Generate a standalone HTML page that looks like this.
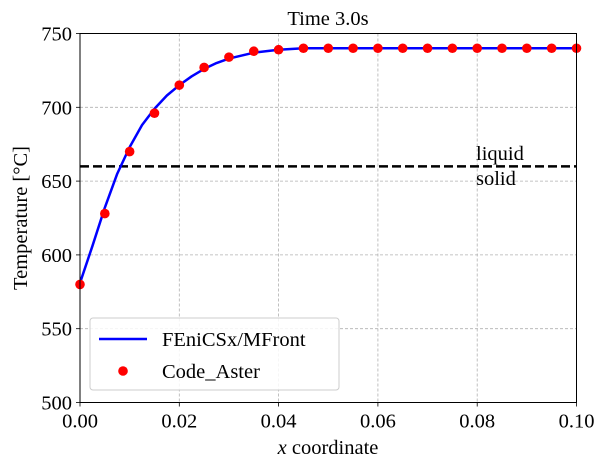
<!DOCTYPE html>
<html><head><meta charset="utf-8"><style>
body{margin:0;background:#fff;}
text{font-family:"Liberation Serif","DejaVu Serif",serif;fill:#000;}
</style></head><body>
<svg id="chart" width="605" height="467" xmlns="http://www.w3.org/2000/svg">
<g id="grid"></g><g id="marks"></g><g id="axes"></g>
</svg>
<script>
const xTicks=[0,0.02,0.04,0.06,0.08,0.10];
const xTickLabels=["0.00","0.02","0.04","0.06","0.08","0.10"];
const yTicks=[500,550,600,650,700,750];
const lineX=[0,0.0025,0.005,0.0075,0.01,0.0125,0.015,0.0175,0.02,0.0225,0.025,0.0275,0.03,0.035,0.04,0.045,0.05,0.06,0.08,0.1];
const lineY=[581,606,632,655,673,688,699,708,715,721,726,730,733,737,739,740,740,740,740,740];
const asterX=[0,0.005,0.01,0.015,0.02,0.025,0.03,0.035,0.04,0.045,0.05,0.055,0.06,0.065,0.07,0.075,0.08,0.085,0.09,0.095,0.1];
const asterY=[580,628,670,696,715,727,734,738,739,740,740,740,740,740,740,740,740,740,740,740,740];
const threshold=660;
const NS="http://www.w3.org/2000/svg";
const L=80,R=576.5,T=33.5,B=402.5;
const sx=v=>L+(v-0)/(0.1)*(R-L);
const sy=v=>B-(v-500)/250*(B-T);
function mk(tag,parent,attrs,txt){const e=document.createElementNS(NS,tag);for(const k in attrs)e.setAttribute(k,attrs[k]);if(txt!==undefined)e.textContent=txt;parent.appendChild(e);return e;}
const grid=document.getElementById('grid'),marks=document.getElementById('marks'),axes=document.getElementById('axes');
xTicks.forEach((t,i)=>{
 const g=mk('line',grid,{x1:sx(t),x2:sx(t),y1:T,y2:B,stroke:'#b0b0b0','stroke-width':0.8,'stroke-dasharray':'3,2'});
 
 
 const tk=mk('line',axes,{x1:sx(t),x2:sx(t),y1:B,y2:B+4,stroke:'#000','stroke-width':0.8});
 
 
 const lb=mk('text',axes,{x:sx(t),y:B+25,'text-anchor':'middle','font-size':20.5},xTickLabels[i]);
 
 
});
yTicks.forEach(t=>{
 const g=mk('line',grid,{x1:L,x2:R,y1:sy(t),y2:sy(t),stroke:'#b0b0b0','stroke-width':0.8,'stroke-dasharray':'3,2'});
 
 
 const tk=mk('line',axes,{x1:L-4,x2:L,y1:sy(t),y2:sy(t),stroke:'#000','stroke-width':0.8});
 
 
 const lb=mk('text',axes,{x:L-8,y:sy(t)+7,'text-anchor':'end','font-size':20.5},String(t));
 
 
});
const th=mk('line',marks,{x1:L,x2:R,y1:sy(threshold),y2:sy(threshold),stroke:'#000','stroke-width':2.5,'stroke-dasharray':'9,4'});


const pl=mk('polyline',marks,{points:lineX.map((x,i)=>sx(x)+','+sy(lineY[i])).join(' '),fill:'none',stroke:'#0000ff','stroke-width':2.5,'stroke-linejoin':'round'});


asterX.forEach((x,i)=>{
 const c=mk('circle',marks,{cx:sx(x),cy:sy(asterY[i]),r:4.8,fill:'#ff0000'});
 
 
});
const fr=mk('rect',axes,{x:L,y:T,width:R-L,height:B-T,fill:'none',stroke:'#000','stroke-width':1});


</script>
<svg style="position:absolute;left:0;top:0" width="605" height="467" xmlns="http://www.w3.org/2000/svg">
<text x="328" y="25" text-anchor="middle" font-size="20.5">Time 3.0s</text>
<text x="476" y="160" font-size="20.5">liquid</text>
<text x="476" y="185" font-size="20.5">solid</text>
<text x="328" y="454" text-anchor="middle" font-size="20.5"><tspan font-style="italic">x</tspan> coordinate</text>
<text transform="translate(27,218) rotate(-90)" text-anchor="middle" font-size="20.5">Temperature [°C]</text>
<g>
<rect x="90" y="318" width="249" height="72" rx="3" fill="#fff" fill-opacity="0.85" stroke="#ccc" stroke-width="1"/>
<line x1="99" x2="147" y1="339" y2="339" stroke="#0000ff" stroke-width="2.5"/>
<text x="162" y="346" font-size="20.5">FEniCSx/MFront</text>
<circle cx="123" cy="371" r="4.8" fill="#ff0000"/>
<text x="162" y="378" font-size="20.5">Code_Aster</text>
</g>
</svg>
</body></html>
